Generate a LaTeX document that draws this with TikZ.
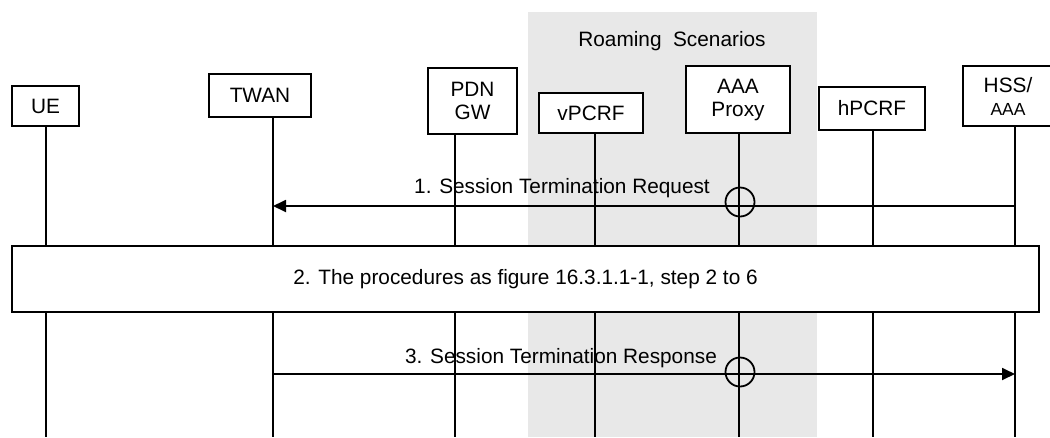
\documentclass[tikz,border=0pt]{standalone}
\usepackage{fontspec}
\setmainfont{Liberation Sans}
\usetikzlibrary{arrows.meta}
\definecolor{roam}{RGB}{232,232,232}
\begin{document}
\begin{tikzpicture}[x=1pt,y=-1pt,
  font=\fontsize{20.8}{23}\selectfont,
  line width=1.8pt,
  box/.style={draw, fill=white, inner sep=0pt, align=center},
  msg/.style={-{Triangle[length=13pt,width=12pt]}},
  lbl/.style={anchor=base, inner sep=0pt},
  xing/.style={draw, circle, minimum size=29pt, inner sep=0pt}]
\useasboundingbox (0,0) rectangle (1050,437);
% roaming area
\fill[roam] (528,12) rectangle (817,437);
\node[lbl] (roamlbl) at (672,46) {Roaming\ \ Scenarios};
% entities
\node[box, minimum width=67, minimum height=40] (ue) at (45.5,106) {UE};
\node[box, minimum width=102, minimum height=43] (twan) at (260,95.5) {TWAN};
\node[box, minimum width=89, minimum height=66] (pdn) at (472.5,101) {PDN\\GW};
\node[box, minimum width=104, minimum height=40] (vpcrf) at (591,113) {vPCRF};
\node[box, minimum width=104, minimum height=67] (aaa) at (738,99.5) {AAA\\Proxy};
\node[box, minimum width=106, minimum height=43] (hpcrf) at (872,108.5) {hPCRF};
\node[box, minimum width=90, minimum height=60] (hss) at (1008,96) {HSS/\\\fontsize{17.5}{20}\selectfont AAA};
% lifeline x positions
\coordinate (xue) at (46,0);
\coordinate (xtwan) at (273,0);
\coordinate (xpdn) at (455,0);
\coordinate (xvpcrf) at (595,0);
\coordinate (xaaa) at (739,0);
\coordinate (xhpcrf) at (873,0);
\coordinate (xhss) at (1015,0);
\coordinate (bot) at (0,437);
\foreach \n in {ue,twan,pdn,vpcrf,aaa,hpcrf,hss}
  \draw (x\n |- \n.south) -- (x\n |- bot);
% step 1
\coordinate (m1) at (0,206);
\draw[msg] (xhss |- m1) -- (xtwan |- m1);
\node[lbl] (l1) at (562,193) {1. Session Termination Request};
\node[xing] (c1) at (740,202) {};
% step 2
\node[box, minimum width=1027, minimum height=66] (proc) at (525.5,279) {2. The procedures as figure 16.3.1.1-1, step 2 to 6};
% step 3
\coordinate (m3) at (0,374);
\draw[msg] (xtwan |- m3) -- (xhss |- m3);
\node[lbl] (l3) at (561,363) {3. Session Termination Response};
\node[xing] (c3) at (740,372) {};
\end{tikzpicture}
\end{document}
